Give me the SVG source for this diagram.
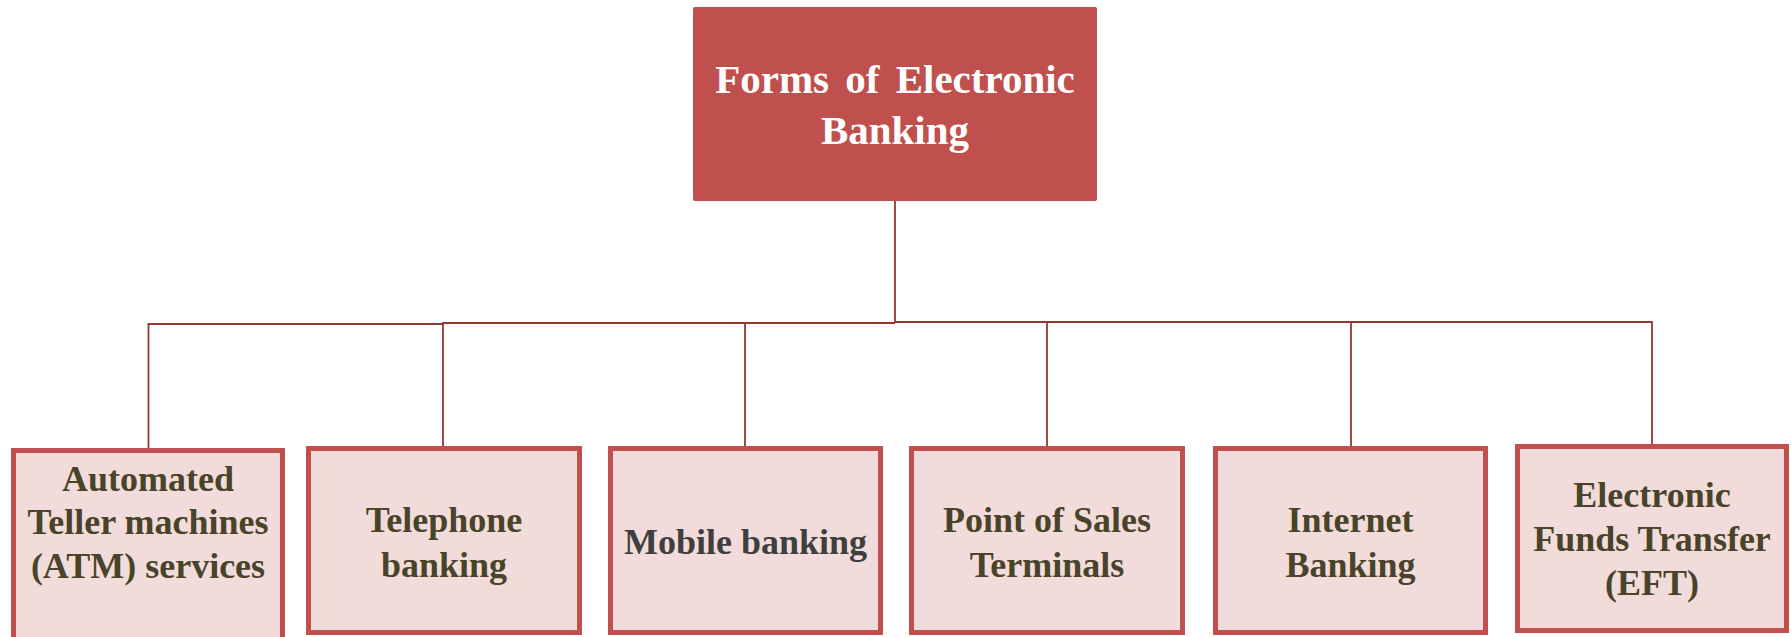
<svg xmlns="http://www.w3.org/2000/svg" width="1791" height="637" viewBox="0 0 1791 637">
  <style>
    .conn { fill: none; stroke: #953735; stroke-width: 1.8; }
    .child rect { fill: #F2DCDB; stroke: #C0504D; stroke-width: 5; }
    .child text { font-family: "Liberation Serif", "Times New Roman", serif; font-weight: bold; font-size: 36px; fill: #494429; text-anchor: middle; }
    .root rect { fill: #C0504D; }
    .root text { font-family: "Liberation Serif", "Times New Roman", serif; font-weight: bold; font-size: 41px; fill: #FFFFFF; text-anchor: middle; word-spacing: 6px; }
  </style>
  <rect width="1791" height="637" fill="#FFFFFF"/>

  <g id="connectors">
    <path class="conn" d="M895 201 V323"/>
    <path class="conn" d="M148.5 449 V324 H443"/>
    <path class="conn" d="M443 446 V323 H895"/>
    <path class="conn" d="M745 446 V323"/>
    <path class="conn" d="M895 322 H1652 V444"/>
    <path class="conn" d="M1047 446 V322"/>
    <path class="conn" d="M1351 446 V322"/>
  </g>

  <g id="root" class="root">
    <rect x="693" y="7" width="404" height="194" rx="2"/>
    <text x="895" y="93">Forms of Electronic</text>
    <text x="895" y="144">Banking</text>
  </g>

  <g id="atm" class="child">
    <rect x="13.5" y="450.5" width="269" height="195"/>
    <text x="148" y="491">Automated</text>
    <text x="148" y="534">Teller machines</text>
    <text x="148" y="578">(ATM) services</text>
  </g>

  <g id="telephone" class="child">
    <rect x="308.5" y="448.5" width="271" height="184"/>
    <text x="444" y="532">Telephone</text>
    <text x="444" y="577">banking</text>
  </g>

  <g id="mobile" class="child">
    <rect x="610.5" y="448.5" width="270" height="184"/>
    <text x="745.5" y="554" style="fill:#3F3F3F">Mobile banking</text>
  </g>

  <g id="pos" class="child">
    <rect x="911.5" y="448.5" width="271" height="184"/>
    <text x="1047" y="532">Point of Sales</text>
    <text x="1047" y="577">Terminals</text>
  </g>

  <g id="internet" class="child">
    <rect x="1215.5" y="448.5" width="270" height="184"/>
    <text x="1350.5" y="532">Internet</text>
    <text x="1350.5" y="577">Banking</text>
  </g>

  <g id="eft" class="child">
    <rect x="1517.5" y="446.5" width="269" height="184"/>
    <text x="1652" y="507">Electronic</text>
    <text x="1652" y="551">Funds Transfer</text>
    <text x="1652" y="595">(EFT)</text>
  </g>
</svg>
